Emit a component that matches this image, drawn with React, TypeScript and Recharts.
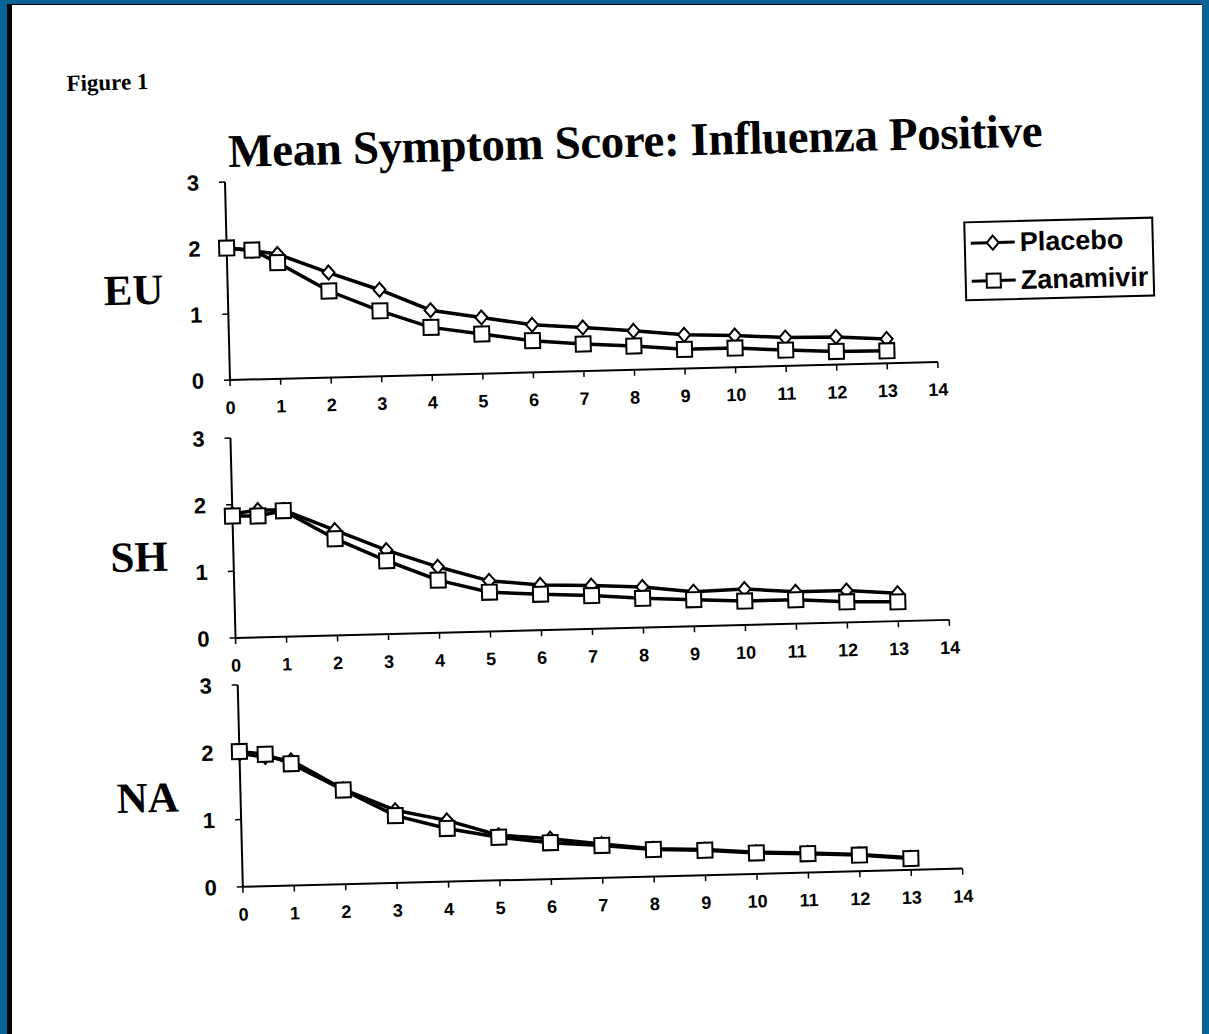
import React from "react";
import { LineChart, Line, XAxis, YAxis } from "recharts";

// days on the x axis (there is an extra reading at half a day)
const days = [0, 0.5, 1, 2, 3, 4, 5, 6, 7, 8, 9, 10, 11, 12, 13];
const xTicks = [0, 1, 2, 3, 4, 5, 6, 7, 8, 9, 10, 11, 12, 13, 14];
const yTicks = [0, 1, 2, 3];

const euPlacebo = [2.0, 1.95, 1.89, 1.59, 1.31, 0.98, 0.85, 0.72, 0.66, 0.59, 0.51, 0.48, 0.43, 0.42, 0.37];
const euZanamivir = [2.0, 1.96, 1.76, 1.31, 0.99, 0.72, 0.6, 0.48, 0.41, 0.36, 0.29, 0.29, 0.24, 0.2, 0.19];

const shPlacebo = [1.86, 1.91, 1.9, 1.58, 1.26, 0.99, 0.76, 0.68, 0.65, 0.61, 0.52, 0.54, 0.48, 0.48, 0.42];
const shZanamivir = [1.83, 1.82, 1.89, 1.45, 1.1, 0.79, 0.59, 0.54, 0.5, 0.44, 0.4, 0.36, 0.36, 0.31, 0.29];

const naPlacebo = [1.98, 1.92, 1.86, 1.41, 1.08, 0.91, 0.67, 0.6, 0.5, 0.41, 0.38, 0.32, 0.29, 0.25, 0.18];
const naZanamivir = [2.01, 1.96, 1.81, 1.4, 1.0, 0.79, 0.64, 0.54, 0.48, 0.4, 0.37, 0.31, 0.28, 0.24, 0.17];

const serif = '"Liberation Serif", "Times New Roman", serif';
const sans = '"Liberation Sans", Arial, sans-serif';

function buildRows(placebo: number[], zanamivir: number[]) {
  return days.map((d, i) => ({ day: d, placebo: placebo[i], zanamivir: zanamivir[i] }));
}

function DiamondDot(props: any) {
  const { cx, cy, index } = props;
  if (cx == null || cy == null) return null;
  return (
    <polygon
      key={`d-${index}`}
      points={`${cx},${cy - 7} ${cx + 6},${cy} ${cx},${cy + 7} ${cx - 6},${cy}`}
      fill="#fff"
      stroke="#000"
      strokeWidth={2}
    />
  );
}

function SquareDot(props: any) {
  const { cx, cy, index } = props;
  if (cx == null || cy == null) return null;
  return (
    <rect
      key={`s-${index}`}
      x={cx - 7.5}
      y={cy - 7.5}
      width={15}
      height={15}
      fill="#fff"
      stroke="#000"
      strokeWidth={2}
    />
  );
}

const Y_AXIS_W = 60;
const TOP_PAD = 12;
const X_AXIS_H = 48;
const RIGHT_PAD = 20;

function Panel({
  name,
  placebo,
  zanamivir,
  plotLeft,
  plotTop,
  plotW,
  plotH,
  nameTop,
}: {
  name: string;
  placebo: number[];
  zanamivir: number[];
  plotLeft: number;
  plotTop: number;
  plotW: number;
  plotH: number;
  nameTop: number;
}) {
  const rows = buildRows(placebo, zanamivir);
  return (
    <>
      <div
        style={{
          position: "absolute",
          left: 106,
          top: nameTop,
          fontFamily: serif,
          fontWeight: "bold",
          fontSize: 43,
          lineHeight: "46px",
          color: "#000",
        }}
      >
        {name}
      </div>
      <div style={{ position: "absolute", left: plotLeft - Y_AXIS_W, top: plotTop - TOP_PAD }}>
        <LineChart
          width={Y_AXIS_W + plotW + RIGHT_PAD}
          height={TOP_PAD + plotH + X_AXIS_H}
          data={rows}
          margin={{ top: TOP_PAD, right: RIGHT_PAD, bottom: 0, left: 0 }}
        >
          <XAxis
            dataKey="day"
            type="number"
            domain={[0, 14]}
            ticks={xTicks}
            interval={0}
            height={X_AXIS_H}
            tickSize={6}
            tickMargin={15}
            axisLine={{ stroke: "#000", strokeWidth: 2 }}
            tickLine={{ stroke: "#000", strokeWidth: 1.5 }}
            tick={{ fill: "#000", fontSize: 18, fontWeight: "bold", fontFamily: sans }}
          />
          <YAxis
            type="number"
            domain={[0, 3]}
            ticks={yTicks}
            interval={0}
            width={Y_AXIS_W}
            tickSize={6}
            tickMargin={20}
            axisLine={{ stroke: "#000", strokeWidth: 2 }}
            tickLine={{ stroke: "#000", strokeWidth: 1.5 }}
            tick={{ fill: "#000", fontSize: 22, fontWeight: "bold", fontFamily: sans }}
          />
          <Line
            type="linear"
            dataKey="placebo"
            name="Placebo"
            stroke="#000"
            strokeWidth={3.5}
            dot={DiamondDot}
            activeDot={false}
            isAnimationActive={false}
          />
          <Line
            type="linear"
            dataKey="zanamivir"
            name="Zanamivir"
            stroke="#000"
            strokeWidth={3.5}
            dot={SquareDot}
            activeDot={false}
            isAnimationActive={false}
          />
        </LineChart>
      </div>
    </>
  );
}

function LegendBox() {
  const row = (label: string, square: boolean) => (
    <div style={{ display: "flex", alignItems: "center", height: 38 }}>
      <svg width={46} height={20} style={{ marginLeft: 4, marginRight: 4 }}>
        <line x1={1} y1={10} x2={45} y2={10} stroke="#000" strokeWidth={3} />
        {square ? (
          <rect x={16} y={3} width={14} height={14} fill="#fff" stroke="#000" strokeWidth={2} />
        ) : (
          <polygon points="23,3 29,10 23,17 17,10" fill="#fff" stroke="#000" strokeWidth={2} />
        )}
      </svg>
      <span style={{ fontFamily: sans, fontWeight: "bold", fontSize: 27, color: "#000" }}>{label}</span>
    </div>
  );
  return (
    <div
      style={{
        position: "absolute",
        left: 967,
        top: 240,
        width: 190,
        height: 80,
        border: "2px solid #000",
        background: "#fff",
        boxSizing: "border-box",
        paddingTop: 1,
      }}
    >
      {row("Placebo", false)}
      {row("Zanamivir", true)}
    </div>
  );
}

export default function App() {
  return (
    <div style={{ position: "absolute", left: 0, top: 0, width: 1209, height: 1034, background: "#0a6396", overflow: "hidden" }}>
      <div style={{ position: "absolute", left: 7, top: 4, width: 1195, height: 1030, background: "#000" }} />
      <div style={{ position: "absolute", left: 12, top: 5, width: 1190, height: 1029, background: "#fff" }} />
      <div
        style={{
          position: "absolute",
          left: 0,
          top: 0,
          width: 1209,
          height: 1034,
          transform: "rotate(-1.45deg)",
          transformOrigin: "230px 380px",
        }}
      >
        <div
          style={{
            position: "absolute",
            left: 74,
            top: 68,
            fontFamily: serif,
            fontWeight: "bold",
            fontSize: 23,
            lineHeight: "24px",
          }}
        >
          Figure 1
        </div>
        <div
          style={{
            position: "absolute",
            left: 234,
            top: 126,
            fontFamily: serif,
            fontWeight: "bold",
            fontSize: 47,
            lineHeight: "50px",
            letterSpacing: -0.4,
            whiteSpace: "nowrap",
          }}
        >
          Mean Symptom Score: Influenza Positive
        </div>
        <Panel name="EU" placebo={euPlacebo} zanamivir={euZanamivir} plotLeft={230} plotTop={182} plotW={708} plotH={198} nameTop={265} />
        <Panel name="SH" placebo={shPlacebo} zanamivir={shZanamivir} plotLeft={229} plotTop={438} plotW={714} plotH={200} nameTop={532} />
        <Panel name="NA" placebo={naPlacebo} zanamivir={naZanamivir} plotLeft={230} plotTop={685} plotW={720} plotH={202} nameTop={773} />
        <LegendBox />
      </div>
    </div>
  );
}
